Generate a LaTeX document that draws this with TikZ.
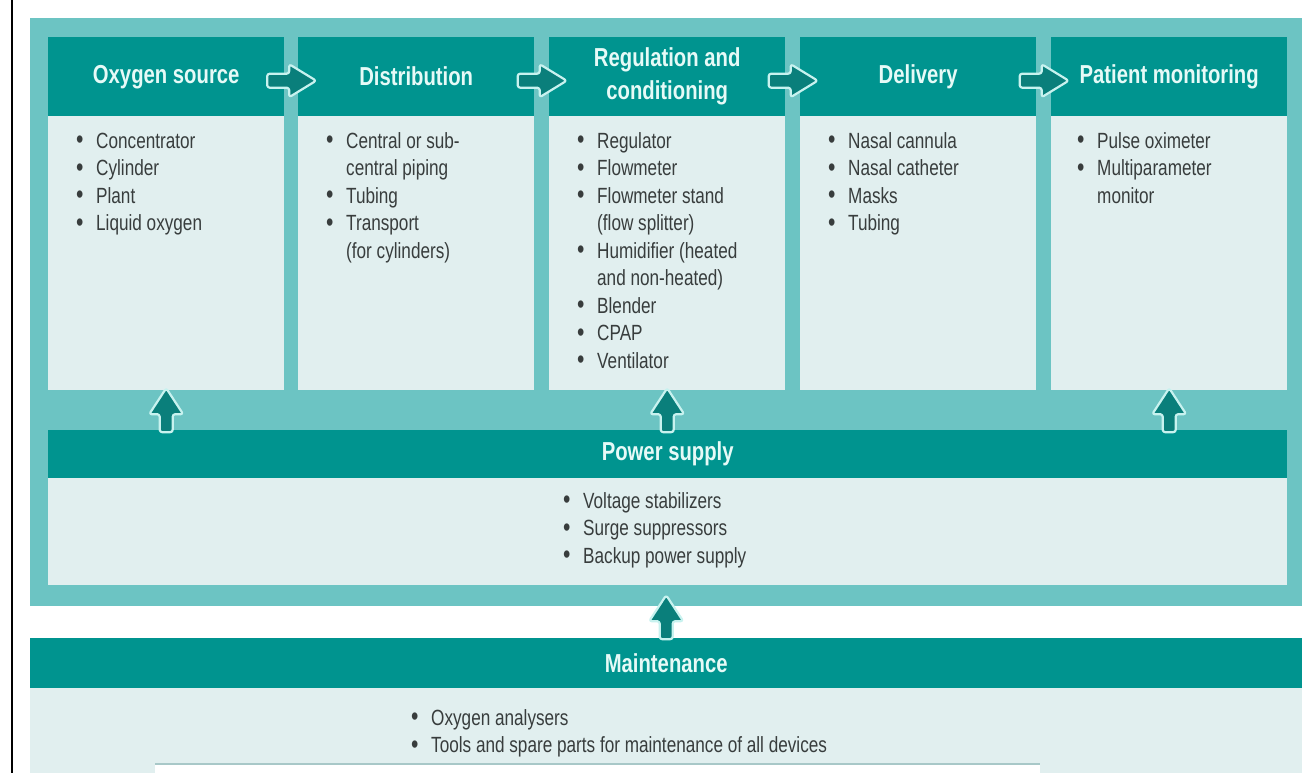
\documentclass[tikz,border=0pt]{standalone}
\usepackage{fontspec}
\setmainfont{Liberation Sans}[FakeStretch=0.78]
\usetikzlibrary{calc}
\definecolor{hdteal}{HTML}{00948F}
\definecolor{frametl}{HTML}{6CC4C3}
\definecolor{panelbg}{HTML}{E1EFEF}
\definecolor{bodytxt}{HTML}{383D3D}
\definecolor{hdtxt}{HTML}{E6FAF7}
\definecolor{arrline}{HTML}{C8F2EF}
\definecolor{arrfill}{HTML}{0A7F7B}
\definecolor{botline}{HTML}{A8C8C8}
\newcommand\bl{\makebox[20pt][l]{\raisebox{-0.5pt}{\fontsize{27}{27.5}\selectfont\textbullet}}}
\newcommand\cn{\hspace*{20pt}}
\tikzset{
  hdr/.style={fill=hdteal, text=hdtxt, font=\fontsize{26}{33}\selectfont\bfseries, inner sep=0pt, align=center, anchor=north west},
  bodybox/.style={fill=panelbg, anchor=north west, inner sep=0pt},
  lst/.style={text=bodytxt, font=\fontsize{22}{27.5}\selectfont, align=left, anchor=north west, inner sep=0pt},
  arrsty/.style={fill=arrfill, draw=arrline, line width=2.2pt, rounded corners=2.5pt, line join=round},
  rarr/.pic={\draw[arrsty] (-24,-7) -- (-2,-7) -- (-2,-16.5) -- (25,0) -- (-2,16.5) -- (-2,7) -- (-24,7) -- cycle;},
  uarr/.pic={\draw[arrsty] (0,-22) -- (17,4) -- (6.5,4) -- (6.5,22) -- (-6.5,22) -- (-6.5,4) -- (-17,4) -- cycle;}
}
\begin{document}
\begin{tikzpicture}[x=1pt,y=-1pt]
\useasboundingbox (0,0) rectangle (1312,773);
\fill[white] (0,0) rectangle (1312,773);
\draw[line width=2pt] (12,0) -- (12,773);
% outer frame
\node[fill=frametl, anchor=north west, minimum width=1272pt, minimum height=588pt, inner sep=0pt] (frm) at (30,18) {};
% headers
\node[hdr, minimum width=236pt, minimum height=79pt] (h1) at (48,37) {Oxygen source};
\node[hdr, minimum width=236pt, minimum height=79pt] (h2) at (298,37) {Distribution};
\node[hdr, minimum width=236pt, minimum height=79pt] (h3) at (549,37) {Regulation and\\conditioning};
\node[hdr, minimum width=236pt, minimum height=79pt] (h4) at (800,37) {Delivery};
\node[hdr, minimum width=236pt, minimum height=79pt] (h5) at (1051,37) {Patient monitoring};
% bodies
\node[bodybox, minimum width=236pt, minimum height=274pt] (b1) at (48,116) {};
\node[bodybox, minimum width=236pt, minimum height=274pt] (b2) at (298,116) {};
\node[bodybox, minimum width=236pt, minimum height=274pt] (b3) at (549,116) {};
\node[bodybox, minimum width=236pt, minimum height=274pt] (b4) at (800,116) {};
\node[bodybox, minimum width=236pt, minimum height=274pt] (b5) at (1051,116) {};
% lists
\node[lst] (l1) at (76,129) {\strut\bl Concentrator\\ \bl Cylinder\\ \bl Plant\\ \bl Liquid oxygen};
\node[lst] (l2) at (326,129) {\strut\bl Central or sub-\\ \cn central piping\\ \bl Tubing\\ \bl Transport\\ \cn (for cylinders)};
\node[lst] (l3) at (577,129) {\strut\bl Regulator\\ \bl Flowmeter\\ \bl Flowmeter stand\\ \cn (flow splitter)\\ \bl Humidifier (heated\\ \cn and non-heated)\\ \bl Blender\\ \bl CPAP\\ \bl Ventilator};
\node[lst] (l4) at (828,129) {\strut\bl Nasal cannula\\ \bl Nasal catheter\\ \bl Masks\\ \bl Tubing};
\node[lst] (l5) at (1077,129) {\strut\bl Pulse oximeter\\ \bl Multiparameter\\ \cn monitor};
% power supply
\node[hdr, minimum width=1239pt, minimum height=48pt] (pw) at (48,430) {Power supply};
\node[bodybox, minimum width=1239pt, minimum height=107pt] (pb) at (48,478) {};
\node[lst] (lp) at (563,489) {\strut\bl Voltage stabilizers\\ \bl Surge suppressors\\ \bl Backup power supply};
% maintenance
\node[hdr, minimum width=1272pt, minimum height=50pt] (mt) at (30,638) {Maintenance};
\node[bodybox, minimum width=1272pt, minimum height=85pt] (mb) at (30,688) {};
\node[lst] (lm) at (411,706) {\strut\bl Oxygen analysers\\ \bl Tools and spare parts for maintenance of all devices};
\fill[white] (155,764) rectangle (1040,773);
\draw[botline, line width=1.5pt] (155,764) -- (1040,764);
% arrows between headers
\coordinate (m12) at ($(h1.east)!0.5!(h2.west)+(0,4)$);
\coordinate (m23) at ($(h2.east)!0.5!(h3.west)+(0,4)$);
\coordinate (m34) at ($(h3.east)!0.5!(h4.west)+(0,4)$);
\coordinate (m45) at ($(h4.east)!0.5!(h5.west)+(0,4)$);
\pic at (m12) {rarr};
\pic at (m23) {rarr};
\pic at (m34) {rarr};
\pic at (m45) {rarr};
% up arrows
\coordinate (u1) at ($(b1.south)!0.5!(b1.south |- pw.north)$);
\coordinate (u3) at ($(b3.south)!0.5!(b3.south |- pw.north)$);
\coordinate (u5) at ($(b5.south)!0.5!(b5.south |- pw.north)$);
\coordinate (um) at ($(mt.north |- frm.south)!0.5!(mt.north)+(0,-5)$);
\pic at (u1) {uarr};
\pic at (u3) {uarr};
\pic at (u5) {uarr};
\pic at (um) {uarr};
\end{tikzpicture}
\end{document}
